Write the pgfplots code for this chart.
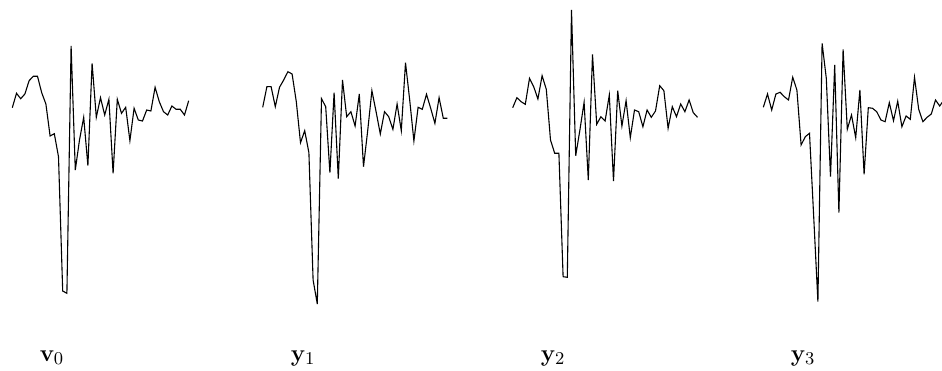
\documentclass[border=0pt]{standalone}
\usepackage{pgfplots}
\usepackage{pgfplotstable}
\pgfplotsset{compat=1.18}

\pgfplotstableread{
x y
0 42.3
1 56.7
2 51.3
3 56
4 69.3
5 73.7
6 73.7
7 57.3
8 46
9 14
10 16.3
11 -6.7
12 -141
13 -143.3
14 104
15 -20
16 10
17 32.7
18 -15.7
19 86.7
20 32.7
21 52.3
22 35
23 50.7
24 -23.3
25 50.7
26 36.7
27 42.7
28 9.3
29 41.7
30 30
31 29
32 40
33 39
34 62.7
35 48.3
36 38.3
37 35
38 44
39 40.7
40 40.7
41 35
42 49.3
}\tvzero

\pgfplotstableread{
x y
0 42.7
1 63.3
2 63.3
3 43.3
4 62.7
5 70
6 78.3
7 76
8 48.3
9 7.3
10 19.3
11 -2.7
12 -130
13 -154
14 51.3
15 43.3
16 -22.7
17 57.3
18 -28.7
19 70
20 33.3
21 38.3
22 24
23 56
24 -16.7
25 19.3
26 59.3
27 38.3
28 16
29 38.3
30 33.3
31 20.7
32 46
33 19.3
34 87.3
35 50
36 9
37 42.7
38 40.7
39 55.7
40 41.7
41 26.7
42 52.3
43 31.7
44 31.7
}\tyone

\pgfplotstableread{
x y
0 42.3
1 52.3
2 48.3
3 45.7
4 71.7
5 63.3
6 51
7 74.3
8 60.7
9 10
10 -3.3
11 -3.3
12 -126.7
13 -127.3
14 140
15 -5.7
16 20
17 47.7
18 -30
19 95.7
20 25.7
21 33.3
22 29
23 55
24 -31
25 59.3
26 24
27 49.3
28 12.3
29 40
30 38.3
31 23.3
32 40
33 32.7
34 39
35 64.3
36 59.3
37 21.7
38 43.3
39 33.3
40 46
41 38.3
42 50
43 37.3
44 32.7
}\tytwo

\pgfplotstableread{
x y
0 42.7
1 56
2 40
3 56
4 57.7
5 53.3
6 50
7 72.7
8 60
9 5
10 13.3
11 16.7
12 -66.7
13 -151.7
14 106.7
15 71.7
16 -26.7
17 85
18 -62.7
19 100.7
20 20.7
21 35
22 12.3
23 60
24 -24.3
25 42.3
26 41.7
27 38.3
28 30
29 28.3
30 47.3
31 29.3
32 48.7
33 23.3
34 34
35 30.7
36 72.7
37 40.7
38 28.3
39 32.7
40 36
41 50
42 44
43 50
44 42
}\tythree

\pgfplotsset{
  sig/.style={
    scale only axis,
    width=92.4pt, height=185pt,
    xmin=0, xmax=44, ymin=-220, ymax=150,
    hide axis, clip=false,
    anchor=south west,
  },
}

\begin{document}
\begin{tikzpicture}
\begin{axis}[sig, at={(6.15pt,0pt)}]
  \addplot[black, line width=0.55pt] table[x=x,y=y] {\tvzero};
\end{axis}
\begin{axis}[sig, at={(131.35pt,0pt)}]
  \addplot[black, line width=0.55pt] table[x=x,y=y] {\tyone};
\end{axis}
\begin{axis}[sig, at={(256.35pt,0pt)}]
  \addplot[black, line width=0.55pt] table[x=x,y=y] {\tytwo};
\end{axis}
\begin{axis}[sig, at={(381.65pt,0pt)}]
  \addplot[black, line width=0.55pt] table[x=x,y=y] {\tythree};
\end{axis}
\node[anchor=base, font=\fontsize{12.5}{15}\selectfont] at (26pt,4.5pt) {$\mathbf{v}_0$};
\node[anchor=base, font=\fontsize{12.5}{15}\selectfont] at (151.5pt,4.5pt) {$\mathbf{y}_1$};
\node[anchor=base, font=\fontsize{12.5}{15}\selectfont] at (276.5pt,4.5pt) {$\mathbf{y}_2$};
\node[anchor=base, font=\fontsize{12.5}{15}\selectfont] at (401.5pt,4.5pt) {$\mathbf{y}_3$};
\pgfresetboundingbox
\useasboundingbox (0pt,0pt) rectangle (471pt,185pt);
\end{tikzpicture}
\end{document}
